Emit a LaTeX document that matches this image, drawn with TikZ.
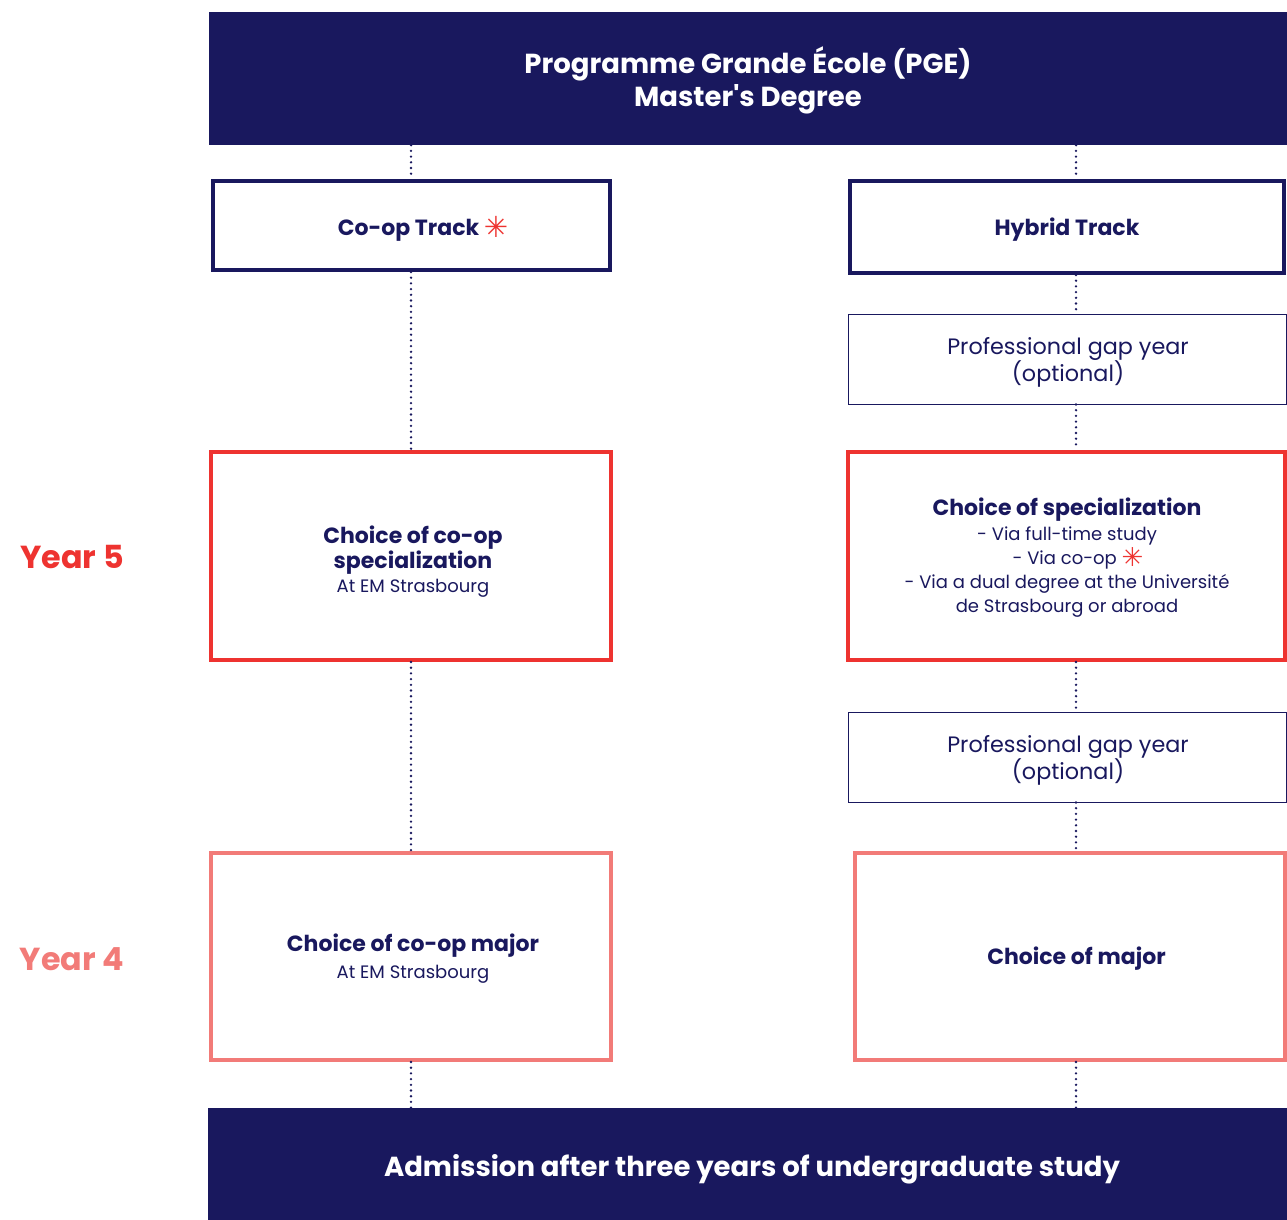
\documentclass[tikz,border=0pt]{standalone}
\usepackage{fontspec}
\setmainfont{Poppins}
\newfontfamily\plainpop{Poppins}
\newfontfamily\symf{DejaVu Sans}
\definecolor{navy}{HTML}{19185E}
\definecolor{redc}{HTML}{EE3330}
\definecolor{salmon}{HTML}{F27B78}
\newcommand{\redast}{\raisebox{-2pt}{\textcolor{redc}{\fontsize{29}{29}\selectfont\symf ✳}}}
\newcommand{\smallredast}{\raisebox{-2pt}{\textcolor{redc}{\fontsize{26}{26}\selectfont\symf ✳}}}
\tikzset{
  banner/.style={fill=navy, draw=none, inner sep=0pt},
  trackbox/.style={draw=navy, line width=4pt, fill=white, inner sep=0pt},
  gapbox/.style={draw=navy, line width=1pt, fill=white, inner sep=0pt},
  yfivebox/.style={draw=redc, line width=4pt, fill=white, inner sep=0pt},
  yfourbox/.style={draw=salmon, line width=4pt, fill=white, inner sep=0pt},
  dots/.style={draw=navy, line width=2.6pt, line cap=round, dash pattern=on 0pt off 5.7pt},
  bannertext/.style={text=white, font=\fontsize{27.5}{33}\selectfont\bfseries, align=center},
  boldtext/.style={text=navy, font=\fontsize{22}{25}\selectfont\bfseries, align=center},
  regtext/.style={text=navy, font=\fontsize{18}{24.3}\selectfont, align=center},
  gaptext/.style={text=navy, font=\fontsize{22.3}{27}\selectfont, align=center},
  yeartext/.style={font=\fontsize{31.8}{36}\selectfont\bfseries},
}
\begin{document}
\begin{tikzpicture}[x=1pt,y=-1pt]
\useasboundingbox (0,0) rectangle (1287,1220);
% banners
\node[banner, minimum width=1078pt, minimum height=133pt] (top) at (748,78.5) {};
\node[bannertext] (toptext) at (748,80.5) {Programme Grande École (PGE)\\{\plainpop\bfseries Master's Degree}};
\node[banner, minimum width=1079pt, minimum height=112pt] (bot) at (747.5,1164) {};
\node[bannertext] (bottext) at (752,1169) {Admission after three years of undergraduate study};
% connector x coordinates
\coordinate (rx) at (1076,0);
\coordinate (lx) at (411,0);
% left column
\node[trackbox, minimum width=397pt, minimum height=89pt] (coopt) at (411.5,225.5) {};
\node[boldtext] (cooptt) at (423,229) {Co-op Track \redast};
\node[yfivebox, minimum width=400pt, minimum height=208pt] (coops) at (411,556) {};
\node[boldtext] (coopst) at (413,550) {Choice of co-op\\specialization};
\node[regtext] (coopsat) at (413,588) {At EM Strasbourg};
\node[yfourbox, minimum width=400pt, minimum height=207pt] (coopm) at (411,956.5) {};
\node[boldtext] (coopmt) at (413,946) {Choice of co-op major};
\node[regtext] (coopmat) at (413,974) {At EM Strasbourg};
% right column
\node[trackbox, minimum width=434pt, minimum height=92pt] (hyb) at (1067,227) {};
\node[boldtext] (hybt) at (1067,230) {Hybrid Track};
\node[gapbox, minimum width=437.5pt, minimum height=90pt] (gap1) at (1067.25,359) {};
\node[gaptext] (gap1t) at (1068,362) {Professional gap year\\(optional)};
\node[yfivebox, minimum width=437pt, minimum height=208pt] (hybs) at (1066.5,556) {};
\node[boldtext] (hybst) at (1067,510) {Choice of specialization};
\node[regtext] (hybsr) at (1067,572) {- Via full-time study\\ \hspace*{22pt}- Via co-op \smallredast\\- Via a dual degree at the Université\\de Strasbourg or abroad};
\node[gapbox, minimum width=437.5pt, minimum height=90pt] (gap2) at (1067.25,757) {};
\node[gaptext] (gap2t) at (1068,760) {Professional gap year\\(optional)};
\node[yfourbox, minimum width=430pt, minimum height=207pt] (major) at (1070,956.5) {};
\node[boldtext] (majort) at (1076.5,959) {Choice of major};
% year labels
\node[yeartext, text=redc] (y5) at (72,557) {Year 5};
\node[yeartext, text=salmon] (y4) at (72,959) {Year 4};
% connectors left
\draw[dots] (top.south -| lx) -- (coopt.north -| lx);
\draw[dots] (coopt.south -| lx) -- (coops.north -| lx);
\draw[dots] (coops.south -| lx) -- (coopm.north -| lx);
\draw[dots] (coopm.south -| lx) -- (bot.north -| lx);
% connectors right
\draw[dots] (top.south -| rx) -- (hyb.north -| rx);
\draw[dots] (hyb.south -| rx) -- (gap1.north -| rx);
\draw[dots] (gap1.south -| rx) -- (hybs.north -| rx);
\draw[dots] (hybs.south -| rx) -- (gap2.north -| rx);
\draw[dots] (gap2.south -| rx) -- (major.north -| rx);
\draw[dots] (major.south -| rx) -- (bot.north -| rx);
\end{tikzpicture}
\end{document}
